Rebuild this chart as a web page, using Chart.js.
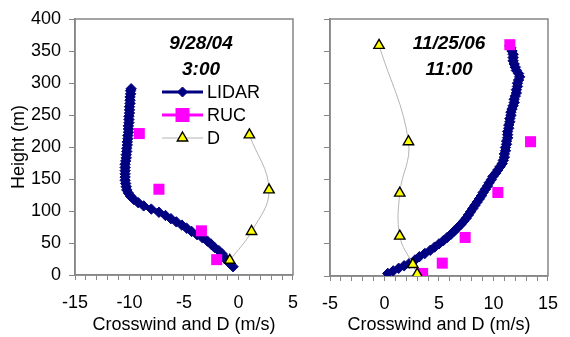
<!DOCTYPE html>
<html>
<head>
<meta charset="utf-8">
<script src="https://cdn.jsdelivr.net/npm/chart.js@4.4.1/dist/chart.umd.min.js"></script>
<style>
  html, body { margin: 0; padding: 0; background: #fff; }
  #wrap { position: relative; width: 570px; height: 337px; overflow: hidden; }
  canvas { position: absolute; top: 0; }
  #left { left: 0; }
  #right { left: 310px; }
</style>
</head>
<body>
<div id="wrap">
  <canvas id="left" width="310" height="337"></canvas>
  <canvas id="right" width="260" height="337"></canvas>
</div>
<script>
// ---- panel 1: 9/28/04 3:00 ----
const leftLidarHeight = [13, 18, 23, 28, 33, 38, 43, 48, 53, 58, 63, 68, 73, 78, 83, 88, 93, 98, 103, 108,
  113, 118, 123, 128, 133, 138, 143, 148, 153, 158, 163, 168, 173, 178, 183, 188, 193, 198, 203, 208,
  213, 218, 223, 228, 233, 238, 243, 248, 253, 258, 263, 268, 273, 278, 283, 288, 291];
const leftLidarWind = [-0.5, -0.8, -1.1, -1.3, -1.5, -1.8, -2.2, -2.5, -2.85, -3.3, -3.8, -4.3, -4.75, -5.2, -5.7, -6.2, -6.7, -7.3, -8.0, -8.7,
  -9.2, -9.6, -9.9, -10.1, -10.25, -10.3, -10.35, -10.4, -10.4, -10.4, -10.4, -10.4, -10.4, -10.35, -10.3, -10.3, -10.25, -10.25, -10.2, -10.2,
  -10.15, -10.15, -10.1, -10.1, -10.1, -10.05, -10.05, -10.05, -10.0, -10.0, -10.0, -9.95, -9.95, -9.95, -9.9, -9.9, -9.85];
const leftRucHeight = [221, 134, 69, 24];
const leftRucWind = [-9.1, -7.3, -3.4, -2.0];
const leftDHeight = [219, 133, 68, 23];
const leftDValue = [1.0, 2.8, 1.2, -0.8];
const leftXLabels = [-15, -10, -5, 0, 5];

// ---- panel 2: 11/25/06 11:00 ----
const rightLidarHeight = [4, 8, 12, 16, 20, 25, 30, 35, 40, 45, 50, 55, 60, 65, 70, 75, 80, 85, 90, 95,
  100, 105, 110, 115, 120, 125, 130, 135, 140, 145, 150, 155, 160, 165, 170, 175, 180, 185, 190, 195,
  200, 205, 210, 215, 220, 225, 230, 235, 240, 245, 250, 255, 260, 265, 270, 275, 280, 285, 290, 295,
  300, 305, 310, 315, 320, 325, 330, 335, 340, 345, 350, 355, 358];
const rightLidarWind = [0.3, 0.8, 1.3, 1.8, 2.3, 2.8, 3.2, 3.7, 4.2, 4.6, 5.0, 5.4, 5.75, 6.1, 6.4, 6.7, 7.0, 7.25, 7.5, 7.7,
  7.9, 8.1, 8.3, 8.5, 8.7, 8.9, 9.05, 9.25, 9.45, 9.6, 9.8, 9.95, 10.2, 10.4, 10.6, 10.8, 10.9, 11.0, 11.0, 11.1,
  11.1, 11.2, 11.2, 11.3, 11.3, 11.3, 11.4, 11.4, 11.5, 11.5, 11.6, 11.6, 11.7, 11.8, 11.9, 11.9, 12.0, 12.1, 12.1, 12.2,
  12.2, 12.3, 12.4, 12.3, 12.1, 12.0, 11.9, 11.8, 11.8, 11.8, 11.7, 11.6, 11.5];
const rightRucHeight = [360, 209, 130, 60, 20, 4];
const rightRucWind = [11.5, 13.4, 10.4, 7.4, 5.3, 3.5];
const rightDHeight = [359, 209, 129, 62, 18, 3];
const rightDValue = [-0.5, 2.2, 1.4, 1.4, 2.6, 3.0];
const rightXLabels = [-5, 0, 5, 10, 15];

const yLabels = [0, 50, 100, 150, 200, 250, 300, 350, 400];

const FONT = "'Liberation Sans', Arial, sans-serif";
const AXIS_GREY = '#868686';
Chart.defaults.font.family = FONT;
Chart.defaults.color = '#000';

function pairs(xs, ys) {
  return xs.map((x, i) => ({ x: x, y: ys[i] }));
}

const panelFrame = {
  id: 'panelFrame',
  beforeDatasetsDraw(chart) {
    const a = chart.chartArea;
    const ctx = chart.ctx;
    ctx.save();
    ctx.strokeStyle = AXIS_GREY;
    ctx.lineWidth = 1.5;
    ctx.strokeRect(a.left, a.top, a.right - a.left, a.bottom - a.top);
    ctx.restore();
  },
};

function drawMarker(ctx, style, x, y) {
  ctx.beginPath();
  if (style === 'rectRot') {
    ctx.moveTo(x, y - 5); ctx.lineTo(x + 5, y); ctx.lineTo(x, y + 5); ctx.lineTo(x - 5, y);
  } else if (style === 'rect') {
    ctx.rect(x - 5.5, y - 5.5, 11, 11);
  } else {
    ctx.moveTo(x, y - 6); ctx.lineTo(x + 5.2, y + 3); ctx.lineTo(x - 5.2, y + 3);
  }
  ctx.closePath();
}

const panelText = {
  id: 'panelText',
  afterDraw(chart, args, opts) {
    const ctx = chart.ctx;
    const a = chart.chartArea;
    ctx.save();
    ctx.fillStyle = '#000';
    ctx.textAlign = 'center';
    ctx.textBaseline = 'middle';
    ctx.font = 'italic bold 19px ' + FONT;
    opts.lines.forEach((t, i) => ctx.fillText(t, a.left + opts.dx, a.top + opts.dy + i * 26));

    if (opts.legend) {
      ctx.font = '18px ' + FONT;
      ctx.textAlign = 'left';
      chart.data.datasets.forEach((ds, i) => {
        const y = a.top + 73 + i * 23;
        const x0 = a.left + 87;
        const x1 = a.left + 128;
        ctx.strokeStyle = ds.borderColor;
        ctx.lineWidth = ds.legendLineWidth;
        ctx.beginPath(); ctx.moveTo(x0, y); ctx.lineTo(x1, y); ctx.stroke();
        drawMarker(ctx, ds.pointStyle, (x0 + x1) / 2, y);
        ctx.fillStyle = ds.pointBackgroundColor;
        ctx.fill();
        ctx.strokeStyle = ds.pointBorderColor;
        ctx.lineWidth = ds.pointBorderWidth;
        ctx.stroke();
        ctx.fillStyle = '#000';
        ctx.fillText(ds.label, x1 + 4, y + 1);
      });
    }
    ctx.restore();
  },
};

function makePanel(id, p) {
  const datasets = [
    {
      label: 'LIDAR',
      data: pairs(p.lidarWind, p.lidarHeight),
      showLine: true,
      borderColor: '#000080',
      borderWidth: 5,
      legendLineWidth: 3,
      pointStyle: 'rectRot',
      pointRadius: 5.2,
      pointBackgroundColor: '#000080',
      pointBorderColor: '#000080',
      pointBorderWidth: 1,
      order: 3,
    },
    {
      label: 'RUC',
      data: pairs(p.rucWind, p.rucHeight),
      showLine: false,
      borderColor: '#ff00ff',
      legendLineWidth: 3,
      pointStyle: 'rect',
      pointRadius: 7.8,
      pointBackgroundColor: '#ff00ff',
      pointBorderColor: '#ff00ff',
      pointBorderWidth: 0,
      order: 2,
    },
    {
      label: 'D',
      data: pairs(p.dValue, p.dHeight),
      showLine: true,
      tension: 0.4,
      borderColor: '#b4b4b4',
      borderWidth: 1,
      legendLineWidth: 1,
      pointStyle: 'triangle',
      pointRadius: 6,
      pointBackgroundColor: '#ffff00',
      pointBorderColor: '#000',
      pointBorderWidth: 1.4,
      order: 1,
    },
  ];

  return new Chart(document.getElementById(id), {
    type: 'scatter',
    data: { datasets: datasets },
    plugins: [panelFrame, panelText],
    options: {
      responsive: false,
      animation: false,
      events: [],
      layout: { padding: { top: 19, right: 12, left: 0, bottom: 0 } },
      plugins: {
        legend: { display: false },
        tooltip: { enabled: false },
        panelText: { lines: p.title, dx: p.titleDx, dy: 25, legend: p.legend },
      },
      scales: {
        x: {
          type: 'linear',
          min: p.xLabels[0],
          max: p.xLabels[p.xLabels.length - 1],
          afterFit: (s) => { s.height = p.xAxisHeight; },
          ticks: {
            stepSize: 1,
            autoSkip: false,
            maxRotation: 0,
            padding: 12,
            font: { size: 18 },
            callback: (v) => (p.xLabels.includes(v) ? String(v) : ''),
          },
          grid: { drawOnChartArea: false, drawTicks: true, tickLength: 5, color: AXIS_GREY },
          border: { color: AXIS_GREY, width: 1.5 },
          title: {
            display: true,
            text: 'Crosswind and D (m/s)',
            font: { size: 18 },
            padding: { top: 0, bottom: 1 },
          },
        },
        y: {
          type: 'linear',
          min: 0,
          max: 400,
          afterFit: (s) => { s.width = p.yAxisWidth; },
          ticks: {
            stepSize: 50,
            padding: 8,
            font: { size: 18 },
            callback: (v) => (p.yTickLabels && yLabels.includes(v) ? String(v) : ''),
          },
          grid: { drawOnChartArea: false, drawTicks: true, tickLength: 6, color: AXIS_GREY },
          border: { color: AXIS_GREY, width: 1.5 },
          title: {
            display: p.yTickLabels,
            text: 'Height (m)',
            font: { size: 18 },
            padding: { top: 8, bottom: 0 },
          },
        },
      },
    },
  });
}

makePanel('left', {
  lidarWind: leftLidarWind, lidarHeight: leftLidarHeight,
  rucWind: leftRucWind, rucHeight: leftRucHeight,
  dValue: leftDValue, dHeight: leftDHeight,
  xLabels: leftXLabels,
  title: ['9/28/04', '3:00'], titleDx: 126,
  legend: true, yTickLabels: true,
  yAxisWidth: 75, xAxisHeight: 62,
});

makePanel('right', {
  lidarWind: rightLidarWind, lidarHeight: rightLidarHeight,
  rucWind: rightRucWind, rucHeight: rightRucHeight,
  dValue: rightDValue, dHeight: rightDHeight,
  xLabels: rightXLabels,
  title: ['11/25/06', '11:00'], titleDx: 119,
  legend: false, yTickLabels: false,
  yAxisWidth: 20, xAxisHeight: 61,
});
</script>
</body>
</html>
